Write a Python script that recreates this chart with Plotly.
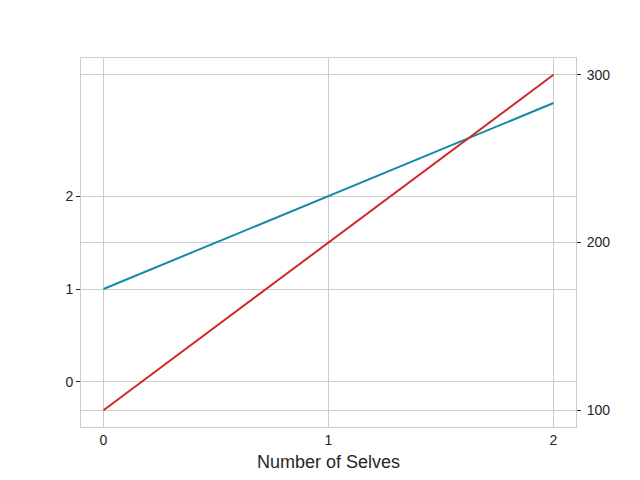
import plotly.graph_objects as go

x_vals = [0, 1, 2]
blue_vals = [1, 2, 3]
red_vals = [100, 200, 300]
x_label = "Number of Selves"

fig = go.Figure()
fig.add_trace(go.Scatter(x=x_vals, y=blue_vals, mode="lines",
                         line=dict(color="#138ba5", width=2), yaxis="y", showlegend=False))
fig.add_trace(go.Scatter(x=x_vals, y=red_vals, mode="lines",
                         line=dict(color="#d0282d", width=2), yaxis="y2", showlegend=False))

grid = "#cccccc"
tickfont = dict(family="Liberation Sans, Arial, sans-serif", size=14, color="#262626")

fig.update_layout(
    width=632, height=472,
    margin=dict(l=73, r=64, t=50, b=49),
    paper_bgcolor="white", plot_bgcolor="white",
    xaxis=dict(range=[-0.1, 2.1], tickvals=[0, 1, 2], showgrid=True, gridcolor=grid,
               gridwidth=1, zeroline=False, showline=True, linecolor=grid, mirror=True,
               ticks="", tickfont=tickfont,
               title=dict(text=x_label, font=dict(family="Liberation Sans, Arial, sans-serif",
                                                  size=18, color="#262626"), standoff=8)),
    yaxis=dict(range=[-0.484, 3.484], tickvals=[0, 1, 2], showgrid=True, gridcolor=grid,
               zeroline=False, showline=True, linecolor=grid, mirror=True,
               ticks="outside", ticklen=4, tickcolor="#262626", tickwidth=1, tickfont=tickfont),
    yaxis2=dict(range=[90, 310], tickvals=[100, 200, 300], overlaying="y", side="right",
                showgrid=True, gridcolor=grid, zeroline=False, showline=False,
                ticks="outside", ticklen=4, tickcolor="#262626", tickwidth=1, tickfont=tickfont,
                ticklabelstandoff=3),
)

fig.write_html("out.html")
